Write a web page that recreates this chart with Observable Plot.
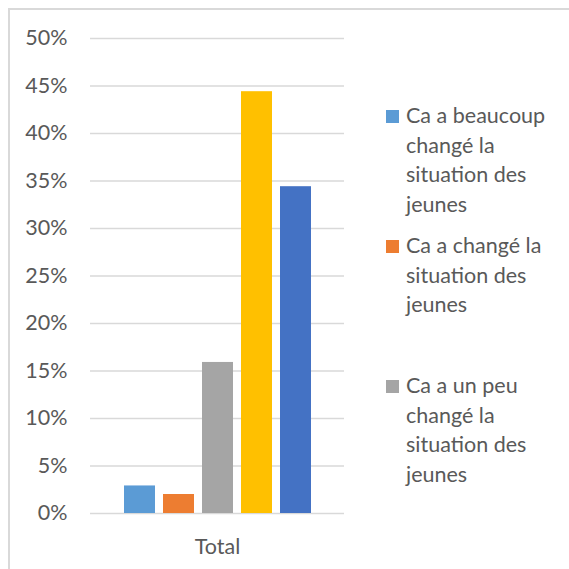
<!DOCTYPE html>
<html>
<head>
<meta charset="utf-8">
<script src="https://cdn.jsdelivr.net/npm/d3@7"></script>
<script src="https://cdn.jsdelivr.net/npm/@observablehq/plot@0.6"></script>
<style>
  html, body { margin: 0; padding: 0; background: #fff; }
  #wrap { position: relative; width: 569px; height: 569px; overflow: hidden; font-family: Lato, "Open Sans", sans-serif; color: #595959; }
  #border { position: absolute; left: 8px; top: 8px; width: 700px; height: 700px; border-top: 2px solid #d9d9d9; border-left: 2px solid #d9d9d9; box-sizing: border-box; }
  #chart { position: absolute; left: 0; top: 0; }
  .leg { position: absolute; left: 386px; font-size: 21.5px; line-height: 29.5px; }
  .leg .sw { position: absolute; left: 0; top: 9px; width: 13px; height: 13px; }
  .leg .tx { position: absolute; left: 20px; top: 0; white-space: pre; }
</style>
</head>
<body>
<div id="wrap">
  <div id="border"></div>
  <div id="chart"></div>
</div>
<script>
const category = "Total";
const series = [
  "Ca a beaucoup changé la situation des jeunes",
  "Ca a changé la situation des jeunes",
  "Ca a un peu changé la situation des jeunes",
  "Série 4",
  "Série 5"
];
const values = [0.029, 0.020, 0.159, 0.444, 0.344];
const colors = ["#5B9BD5", "#ED7D31", "#A5A5A5", "#FFC000", "#4472C4"];
const yTicks = [0, 0.05, 0.10, 0.15, 0.20, 0.25, 0.30, 0.35, 0.40, 0.45, 0.50];
const legendLines = [
  "Ca a beaucoup\nchangé la\nsituation des\njeunes",
  "Ca a changé la\nsituation des\njeunes",
  "Ca a un peu\nchangé la\nsituation des\njeunes"
];
const legendTops = [101, 231, 371];

const data = series.map((s, i) => ({series: s, value: values[i], category}));

const chart = Plot.plot({
  width: 569,
  height: 569,
  marginLeft: 90,
  marginRight: 225,
  marginTop: 38,
  marginBottom: 56,
  style: {fontFamily: "Lato, 'Open Sans', sans-serif", fontSize: "21.5px", color: "#595959", background: "transparent"},
  x: {type: "band", domain: series, range: [120, 315], paddingInner: 0.2, paddingOuter: 0.1, axis: null},
  y: {domain: [0, 0.5], axis: null},
  color: {domain: series, range: colors},
  marks: [
    Plot.gridY(yTicks, {stroke: "#d9d9d9", strokeOpacity: 1, strokeWidth: 1.5}),
    Plot.axisY(yTicks, {tickSize: 0, tickPadding: 23, label: null, tickFormat: d => Math.round(d * 100) + "%", fontSize: 21.5, fill: "#595959"}),
    Plot.barY(data, {x: "series", y: "value", fill: "series"}),
    Plot.text([category], {frameAnchor: "bottom", dy: 34, fontSize: 21.5, fill: "#595959", lineAnchor: "middle"})
  ]
});
document.getElementById("chart").appendChild(chart);

const wrap = document.getElementById("wrap");
legendLines.forEach((txt, i) => {
  const d = document.createElement("div");
  d.className = "leg";
  d.style.top = legendTops[i] + "px";
  const sw = document.createElement("div");
  sw.className = "sw";
  sw.style.background = colors[i];
  const tx = document.createElement("div");
  tx.className = "tx";
  tx.textContent = txt;
  d.appendChild(sw);
  d.appendChild(tx);
  wrap.appendChild(d);
});
</script>
</body>
</html>
